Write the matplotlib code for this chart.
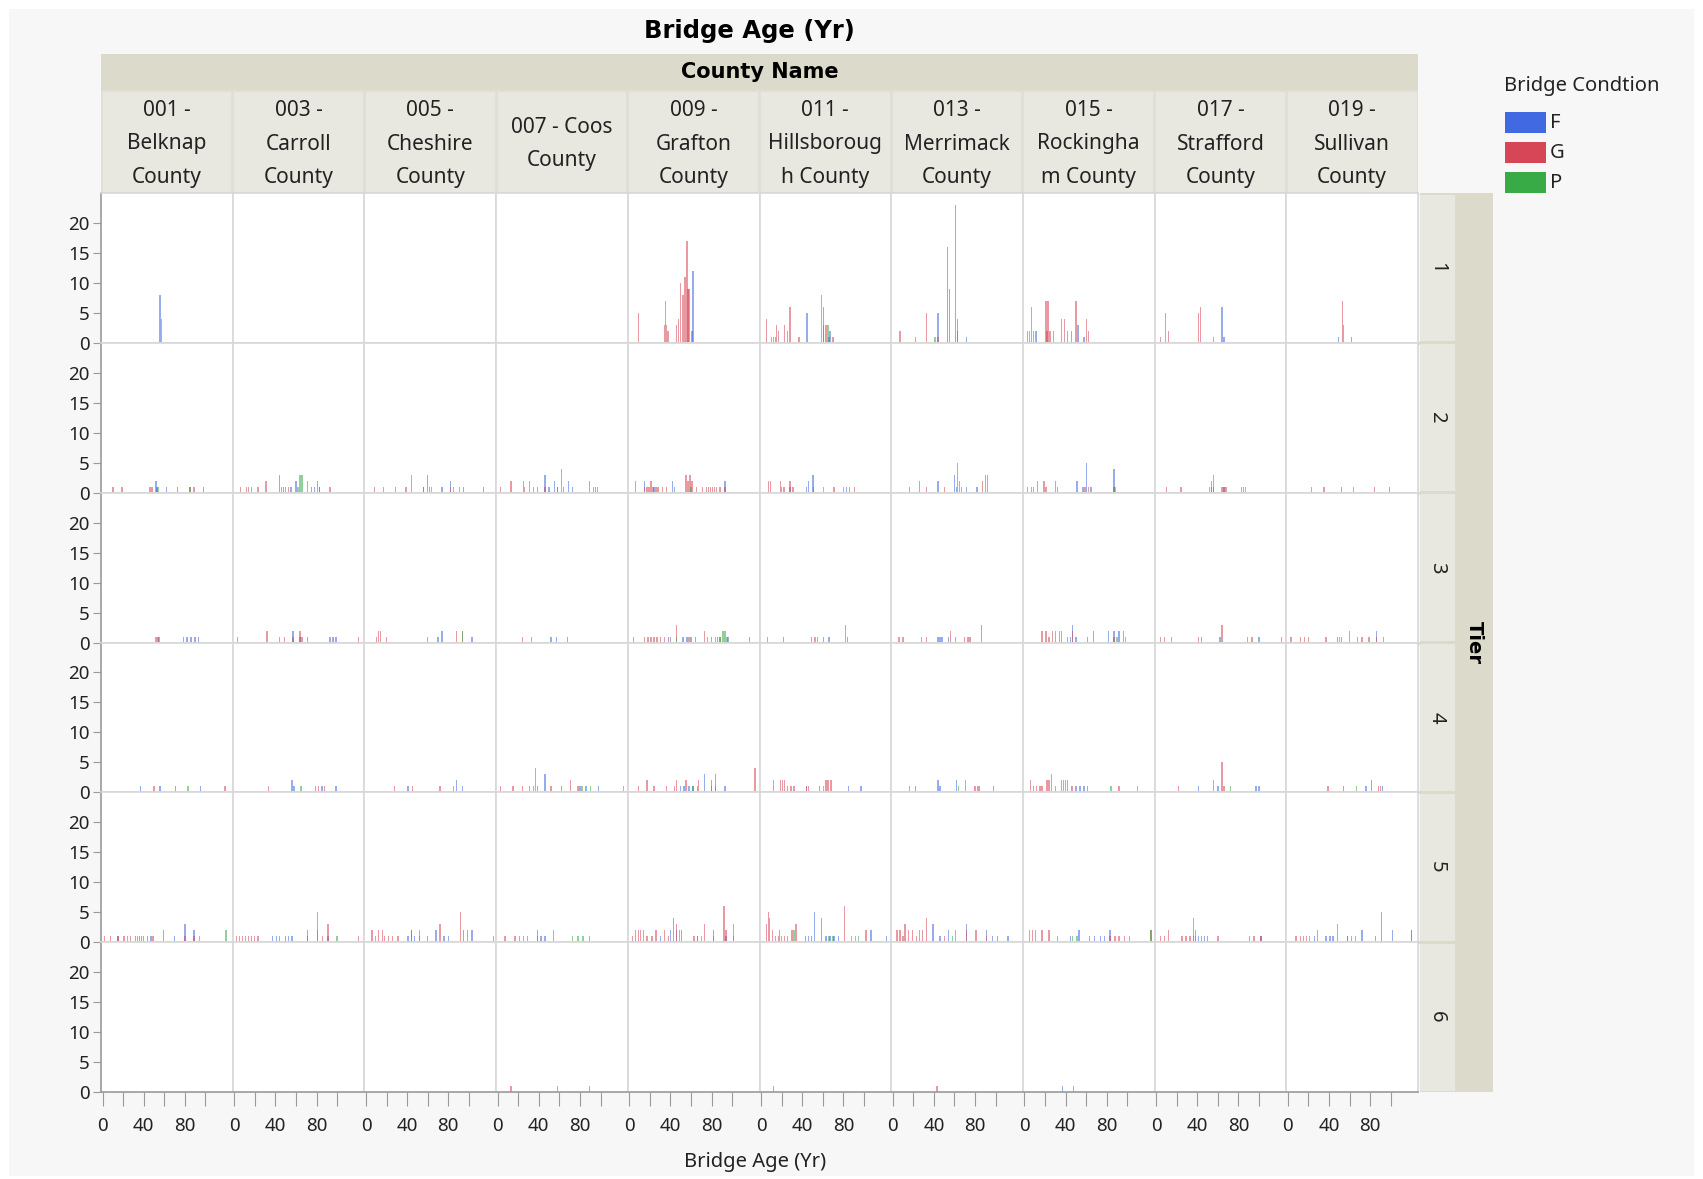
import matplotlib
matplotlib.use('Agg')
import matplotlib.pyplot as plt
from matplotlib.patches import Rectangle

plt.rcParams['font.family'] = ['Noto Sans', 'DejaVu Sans']

# county / tier / condition labels
COUNTIES = ['001 -\nBelknap\nCounty', '003 -\nCarroll\nCounty', '005 -\nCheshire\nCounty',
            '007 - Coos\nCounty', '009 -\nGrafton\nCounty', '011 -\nHillsboroug\nh County',
            '013 -\nMerrimack\nCounty', '015 -\nRockingha\nm County', '017 -\nStrafford\nCounty',
            '019 -\nSullivan\nCounty']
TIERS = ['1', '2', '3', '4', '5', '6']
CONDITIONS = ['F', 'G', 'P']

# (bridge age, count) per county, in the order of COUNTIES
T1_F = [[(56, 8)], [], [], [], [(62, 12), (61, 2)],
        [(44, 5), (45, 5), (61, 6), (67, 2), (66, 1)],
        [(44, 5), (53, 16), (55, 9), (61, 23), (63, 4), (72, 1)],
        [(12, 2), (46, 2), (52, 3), (58, 1)], [(64, 6), (66, 1)], [(49, 1), (62, 1)]]
T1_G = [[(57, 4)], [], [], [],
        [(9, 5), (34, 3), (35, 7), (36, 3), (37, 2), (38, 2), (46, 3), (48, 4), (50, 10),
         (52, 8), (54, 11), (56, 17), (57, 9), (58, 9)],
        [(5, 4), (10, 1), (12, 1), (14, 1), (15, 3), (17, 2), (23, 3), (26, 2), (28, 6),
         (37, 1), (59, 8), (61, 3), (63, 3), (70, 1)],
        [(7, 2), (22, 1), (33, 5), (44, 1), (63, 2)],
        [(3, 2), (5, 2), (7, 6), (9, 2), (11, 2), (21, 7), (22, 2), (23, 7), (25, 2), (28, 2),
         (36, 4), (39, 4), (42, 2), (50, 7), (60, 4), (62, 2)],
        [(4, 1), (9, 5), (12, 2), (41, 5), (43, 6), (56, 1)], [(53, 7), (54, 3)]]
T1_P = [[], [], [], [], [], [(65, 3)], [(41, 1)], [], [], []]

T2_F = [[(52, 2), (53, 1), (62, 1), (73, 1), (98, 1)],
        [(44, 3), (48, 1), (55, 1), (60, 2), (75, 1), (78, 1), (81, 2), (83, 1)],
        [(56, 1), (60, 3), (62, 1), (74, 1), (82, 2), (95, 1), (114, 1)],
        [(46, 3), (50, 1), (55, 2), (58, 1), (69, 2), (73, 1)],
        [(15, 2), (24, 1), (42, 2), (44, 1), (93, 2)],
        [(28, 1), (44, 1), (46, 2), (50, 3), (51, 3), (83, 1), (86, 1)],
        [(44, 2), (60, 3), (62, 1), (72, 1), (82, 1)],
        [(51, 2), (57, 1), (60, 5), (64, 1), (87, 4)],
        [(54, 1), (56, 1), (66, 1)], [(52, 1), (99, 1)]]
T2_G = [[(10, 1), (19, 1), (46, 1), (48, 1), (85, 1), (89, 1)],
        [(6, 1), (12, 1), (14, 1), (17, 1), (23, 1), (31, 2), (46, 1), (50, 1), (53, 1), (71, 2),
         (83, 1), (93, 1)],
        [(8, 1), (17, 1), (29, 1), (39, 1), (44, 3), (56, 1), (82, 1), (85, 1)],
        [(3, 1), (13, 2), (25, 2), (26, 1), (31, 2), (35, 1), (39, 1), (46, 1), (58, 1), (62, 4),
         (64, 1), (89, 2), (93, 1), (95, 1), (97, 1)],
        [(6, 2), (15, 1), (17, 1), (19, 1), (21, 2), (23, 1), (26, 1), (28, 1), (32, 1), (36, 1),
         (55, 3), (57, 2), (59, 3), (61, 2), (65, 1), (71, 1), (75, 1), (77, 1), (79, 1), (81, 1),
         (83, 1), (85, 1), (88, 1), (93, 1)],
        [(7, 2), (9, 2), (19, 2), (20, 1), (22, 1), (23, 1), (28, 2), (31, 1), (51, 1), (71, 1),
         (91, 1)],
        [(16, 1), (26, 2), (33, 1), (50, 1), (63, 5), (65, 2), (67, 1), (87, 2), (90, 3), (92, 3)],
        [(3, 1), (7, 1), (9, 1), (13, 2), (19, 2), (21, 1), (30, 2), (32, 1), (59, 1), (62, 1),
         (65, 1), (87, 1)],
        [(10, 1), (24, 1), (52, 1), (54, 2), (56, 3), (64, 1), (66, 1), (68, 1), (83, 1), (85, 1)],
        [(23, 1), (35, 1), (84, 1)]]
T2_P = [[(54, 1), (85, 1)], [(62, 1), (64, 3), (66, 3)], [(64, 1), (91, 1)], [], [(60, 1)],
        [(61, 1), (80, 1)], [], [(88, 1)], [(87, 1)], [(64, 1)]]

T3_F = [[(54, 1), (79, 1), (82, 1), (86, 1), (90, 1), (93, 1)],
        [(57, 2), (64, 1), (71, 1), (93, 1), (96, 1), (99, 1)],
        [(70, 1), (74, 2), (103, 1)],
        [(52, 1), (57, 1), (68, 1)],
        [(38, 1), (52, 1), (56, 1), (60, 1), (64, 1), (80, 1), (86, 1), (96, 1), (117, 1)],
        [(22, 1), (61, 1), (66, 1), (84, 1)],
        [(44, 1), (46, 1), (48, 1), (54, 1), (86, 3)],
        [(42, 1), (45, 1), (47, 3), (50, 1), (61, 1), (67, 2), (82, 2), (87, 2), (92, 2)],
        [(44, 1), (62, 1), (100, 1)], [(48, 1), (52, 1), (86, 2)]]
T3_G = [[(52, 1), (55, 1)],
        [(3, 1), (32, 2), (44, 1), (49, 1), (57, 1), (64, 2), (66, 1), (121, 1)],
        [(10, 1), (12, 2), (14, 2), (20, 1), (60, 1), (88, 2), (94, 2)],
        [(24, 1), (33, 1)],
        [(4, 1), (15, 1), (18, 1), (21, 1), (24, 1), (27, 1), (30, 1), (34, 1), (40, 1), (46, 3),
         (58, 1), (73, 2), (76, 1), (88, 1)],
        [(6, 1), (49, 1), (52, 1), (82, 3)],
        [(6, 1), (10, 1), (28, 1), (33, 1), (56, 2), (61, 1), (70, 1), (73, 1), (75, 1)],
        [(17, 2), (21, 2), (24, 1), (27, 2), (30, 2), (34, 2), (36, 2), (47, 2), (87, 1), (96, 2)],
        [(4, 1), (8, 1), (15, 1), (41, 1), (64, 3), (89, 1), (93, 1), (122, 1)],
        [(3, 1), (12, 1), (16, 1), (20, 1), (37, 1), (60, 2), (68, 1), (72, 1), (79, 1), (86, 1),
         (93, 1)]]
T3_P = [[], [], [(94, 2)], [], [(46, 1), (84, 1), (88, 1), (91, 2), (93, 2), (95, 1)],
        [(53, 1), (55, 1)], [], [(90, 1), (98, 1)], [], [(50, 1)]]

T4_F = [[(37, 1), (56, 1), (71, 1), (95, 1)],
        [(56, 2), (58, 1), (86, 1), (99, 1)],
        [(41, 1), (88, 2), (94, 1)],
        [(39, 1), (46, 3), (62, 1), (80, 1), (86, 1), (98, 1)],
        [(50, 1), (53, 1), (58, 1), (62, 1), (66, 1), (73, 3), (80, 2), (84, 3), (93, 1)],
        [(44, 1), (57, 1), (85, 1), (97, 1)],
        [(22, 1), (44, 2), (46, 1), (62, 2), (84, 1), (98, 1)],
        [(46, 1), (50, 1), (54, 1), (58, 1), (61, 1)],
        [(41, 1), (60, 1), (97, 1), (100, 1)], [(54, 1), (76, 1), (81, 2), (92, 1)]]
T4_G = [[(50, 1), (119, 1)],
        [(33, 1), (79, 1), (82, 1), (85, 1), (88, 1)],
        [(28, 1), (45, 1), (72, 1)],
        [(3, 1), (15, 1), (24, 1), (31, 1), (35, 1), (37, 4), (52, 1), (71, 2), (78, 1)],
        [(9, 1), (17, 2), (24, 1), (36, 1), (44, 1), (46, 2), (55, 2), (67, 2), (80, 1), (84, 1),
         (122, 4)],
        [(12, 2), (19, 2), (21, 2), (23, 2), (26, 1), (29, 1), (32, 1), (44, 1), (46, 1), (63, 2),
         (65, 2), (68, 2)],
        [(16, 1), (71, 2), (80, 1), (83, 1)],
        [(6, 2), (9, 1), (12, 1), (15, 1), (17, 1), (22, 2), (24, 2), (26, 3), (30, 1), (36, 2),
         (38, 2), (40, 2), (42, 2), (47, 1), (92, 1)],
        [(22, 1), (56, 2), (64, 5), (66, 1)], [(39, 1), (88, 1), (90, 1)]]
T4_P = [[(83, 1)], [(65, 1)], [(85, 1)], [(82, 1), (90, 1), (122, 1)], [(62, 1)], [(61, 1)],
        [(64, 1)], [(84, 1), (110, 1)], [(72, 1)], [(67, 1)]]

T5_F = [[(15, 1), (32, 1), (36, 1), (38, 1), (40, 1), (44, 1), (47, 1), (59, 2), (70, 1), (80, 3),
         (89, 2)],
        [(37, 1), (41, 1), (44, 1), (50, 1), (53, 1), (56, 1), (71, 2), (91, 1)],
        [(41, 1), (44, 2), (47, 1), (60, 1), (68, 2), (76, 1), (80, 1), (95, 2), (99, 2), (103, 2)],
        [(39, 2), (42, 1), (46, 1)],
        [(30, 1), (40, 2), (43, 4), (46, 2), (51, 2), (66, 1), (82, 2), (94, 1)],
        [(18, 2), (43, 1), (46, 1), (49, 1), (52, 5), (59, 4), (63, 1), (67, 1), (71, 1), (75, 1),
         (107, 2), (122, 1)],
        [(39, 3), (46, 1), (54, 2), (72, 3), (91, 2), (97, 1), (102, 1), (112, 1)],
        [(45, 1), (53, 2), (63, 1), (68, 1), (74, 1), (78, 1), (83, 2)],
        [(41, 1), (44, 1), (47, 1), (50, 1), (102, 1)],
        [(26, 1), (37, 1), (41, 1), (44, 1), (58, 1), (72, 2), (85, 1), (91, 5), (102, 2)]]
T5_G = [[(2, 1), (8, 1), (15, 1), (21, 1), (24, 1), (27, 1), (34, 1), (49, 1), (80, 1), (89, 1)],
        [(2, 1), (5, 1), (8, 1), (11, 1), (14, 1), (17, 1), (20, 1), (23, 1), (71, 1), (81, 5),
         (86, 1), (91, 3), (121, 1)],
        [(6, 2), (9, 1), (12, 2), (16, 2), (18, 1), (22, 1), (26, 1), (31, 1), (44, 2), (52, 1),
         (72, 3), (92, 5), (124, 1)],
        [(7, 1), (17, 1), (21, 1), (25, 1), (29, 1), (39, 1), (54, 2), (89, 1)],
        [(3, 1), (6, 2), (9, 2), (11, 2), (14, 2), (17, 1), (22, 1), (26, 2), (34, 2), (38, 1),
         (46, 3), (49, 2), (63, 1), (73, 3), (82, 1), (92, 6), (94, 2), (101, 3)],
        [(5, 3), (7, 5), (8, 4), (11, 2), (14, 1), (17, 1), (20, 1), (23, 1), (26, 1), (30, 2),
         (34, 3), (81, 6), (102, 2)],
        [(4, 2), (7, 2), (10, 1), (12, 3), (15, 2), (19, 2), (23, 1), (26, 2), (29, 2), (33, 4),
         (50, 1), (61, 2), (72, 2), (81, 2), (91, 1)],
        [(5, 2), (8, 2), (11, 2), (17, 2), (24, 2), (32, 1), (83, 1), (88, 1), (92, 1), (97, 1),
         (102, 1), (123, 2)],
        [(4, 1), (8, 1), (12, 2), (25, 1), (29, 1), (33, 1), (36, 4), (38, 2), (60, 1), (91, 1),
         (95, 1), (102, 1)],
        [(8, 1), (12, 1), (15, 1), (18, 1), (21, 1), (29, 2), (48, 3), (58, 1), (62, 1), (66, 1),
         (120, 2)]]
T5_P = [[(94, 1), (120, 2)], [(81, 2), (100, 1)], [(52, 2)], [(73, 1), (78, 1), (83, 1)],
        [(66, 1), (70, 1), (101, 1)], [(32, 2), (66, 1), (70, 1), (88, 1), (92, 1), (95, 1)],
        [(58, 1)], [(47, 1), (51, 1), (123, 2)], [(36, 1), (38, 1)], [(120, 2)]]

T6_F = [[], [], [], [(89, 1)], [], [(12, 1)], [], [(37, 1)], [], []]
T6_G = [[], [], [], [(13, 1), (58, 1)], [], [], [(43, 1)], [(48, 1)], [], []]
T6_P = [[], [], [], [], [], [], [], [], [], []]

DATA = {'1': (T1_F, T1_G, T1_P), '2': (T2_F, T2_G, T2_P), '3': (T3_F, T3_G, T3_P),
        '4': (T4_F, T4_G, T4_P), '5': (T5_F, T5_G, T5_P), '6': (T6_F, T6_G, T6_P)}

COLORS = {'F': '#4169e1', 'G': '#d64657', 'P': '#38ab47'}

W, H = 1703, 1179
fig = plt.figure(figsize=(W / 100, H / 100), dpi=100)
fig.patch.set_facecolor('white')


def rect(x0, y0, x1, y1):
    return [x0 / W, 1 - y1 / H, (x1 - x0) / W, (y1 - y0) / H]


# background layer for headers, strips and legend (pixel coordinates)
bg = fig.add_axes([0, 0, 1, 1], zorder=-1)
bg.set_xlim(0, W)
bg.set_ylim(H, 0)
bg.axis('off')
bg.add_patch(Rectangle((9, 9), 1685, 1167, fc='#f7f7f7', ec='none'))

X0, X1 = 101, 1418
Y0, Y1 = 193, 1092
cw = (X1 - X0) / len(COUNTIES)
rh = (Y1 - Y0) / len(TIERS)
band = '#dcdacb'
cell = '#e9e8e0'
bold = ['DejaVu Sans']

bg.text(749, 31, 'Bridge Age (Yr)', ha='center', va='center', fontsize=17.5, fontweight='bold',
        family=bold)
bg.add_patch(Rectangle((X0, 54), X1 - X0, 36, fc=band, ec='none'))
bg.text((X0 + X1) / 2, 72, 'County Name', ha='center', va='center', fontsize=15,
        fontweight='bold', family=bold)
bg.add_patch(Rectangle((X0, 90), X1 - X0, Y0 - 90, fc='#e0dfd6', ec='none'))
for j, name in enumerate(COUNTIES):
    cx = X0 + j * cw
    bg.add_patch(Rectangle((cx + 1.5, 92), cw - 3, Y0 - 93, fc=cell, ec='none'))
    bg.text(cx + cw / 2, 144, name, ha='center', va='center', fontsize=15, linespacing=1.76,
            color='#222222')

# tier strip on the right
bg.add_patch(Rectangle((1420, Y0), 73, Y1 - Y0, fc=band, ec='none'))
for i, t in enumerate(TIERS):
    ry = Y0 + i * rh
    bg.add_patch(Rectangle((1420, ry + 1.5), 35, rh - 3, fc=cell, ec='none'))
    bg.text(1437, ry + rh / 2, t, ha='center', va='center', fontsize=14.5, rotation=-90,
            color='#222222')
bg.text(1474, (Y0 + Y1) / 2, 'Tier', ha='center', va='center', fontsize=14,
        fontweight='bold', rotation=-90, family=bold)

# legend
bg.text(1504, 86, 'Bridge Condtion', ha='left', va='center', fontsize=14.5, color='#222222')
for k, c in enumerate(CONDITIONS):
    yy = 122 + k * 30
    bg.add_patch(Rectangle((1505, yy - 10.5), 41, 21, fc=COLORS[c], ec='none'))
    bg.text(1550, yy + 1, c, ha='left', va='center', fontsize=14.5, color='#222222')

bg.text(755, 1162, 'Bridge Age (Yr)', ha='center', va='center', fontsize=14.5, color='#222222')

# facet panels
for i, t in enumerate(TIERS):
    for j in range(len(COUNTIES)):
        ax = fig.add_axes(rect(X0 + j * cw, Y0 + i * rh, X0 + (j + 1) * cw, Y0 + (i + 1) * rh))
        ax.set_facecolor('white')
        for c, series in zip(CONDITIONS, DATA[t]):
            pts = series[j]
            if pts:
                ages = [p[0] for p in pts]
                counts = [p[1] for p in pts]
                ax.bar(ages, counts, width=1.3, color=COLORS[c], alpha=0.55, linewidth=0)
        ax.set_xlim(-1.5, 126.5)
        ax.set_ylim(0, 25)
        for s in ax.spines.values():
            s.set_color('#d8d8d8')
            s.set_linewidth(1.2)
        ax.spines['bottom'].set_linewidth(2)
        ax.spines['bottom'].set_color('#d4d4d4')
        if j == 0:
            ax.spines['left'].set_color('#9a9a9a')
            ax.set_yticks([0, 5, 10, 15, 20])
            ax.tick_params(axis='y', length=6, color='#9a9a9a', labelsize=13.5,
                           labelcolor='#222222', pad=2)
        else:
            ax.set_yticks([])
        if i == len(TIERS) - 1:
            ax.spines['bottom'].set_color('#9a9a9a')
            ax.spines['bottom'].set_linewidth(1.2)
            ax.set_xticks([0, 20, 40, 60, 80, 100])
            ax.set_xticklabels(['0', '', '40', '', '80', ''])
            ax.tick_params(axis='x', length=10, color='#9a9a9a', labelsize=13.5,
                           labelcolor='#222222', pad=8)
        else:
            ax.set_xticks([])

fig.savefig('out.png', dpi=100, facecolor=fig.get_facecolor())
